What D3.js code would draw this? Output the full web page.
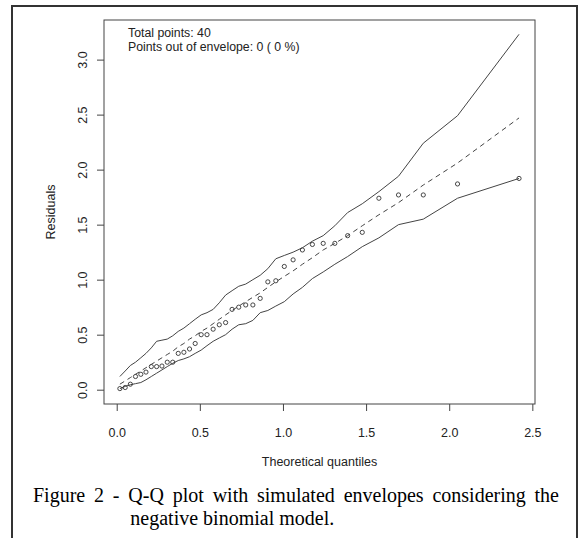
<!DOCTYPE html>
<html><head><meta charset="utf-8">
<script src="https://cdn.jsdelivr.net/npm/d3@7"></script>
<style>html,body{margin:0;padding:0;background:#fff;} svg{display:block}</style>
</head><body>
<svg id="c" width="579" height="538"></svg>
<script>
// Theoretical half-normal quantiles (x)
const quantiles = [0.019,0.051,0.082,0.113,0.145,0.176,0.208,0.240,0.272,0.304,
  0.337,0.370,0.404,0.438,0.472,0.508,0.543,0.580,0.617,0.655,
  0.694,0.734,0.776,0.819,0.863,0.909,0.957,1.008,1.061,1.117,
  1.177,1.242,1.312,1.389,1.477,1.577,1.695,1.844,2.050,2.420];
// Observed (sorted) residuals
const residuals = [0.01,0.02,0.05,0.12,0.14,0.16,0.21,0.21,0.215,0.25,
  0.25,0.33,0.34,0.37,0.42,0.50,0.50,0.55,0.59,0.61,
  0.73,0.75,0.77,0.77,0.83,0.98,0.99,1.12,1.18,1.27,
  1.32,1.33,1.33,1.40,1.43,1.74,1.77,1.77,1.87,1.92];
// Simulated envelope
const envLower = [0.01,0.03,0.045,0.055,0.065,0.09,0.12,0.15,0.18,0.21,
  0.24,0.265,0.28,0.30,0.33,0.36,0.40,0.44,0.47,0.50,
  0.55,0.59,0.60,0.63,0.70,0.72,0.76,0.80,0.87,0.93,
  1.01,1.07,1.14,1.21,1.30,1.38,1.50,1.55,1.74,1.92];
const envMedian = [0.05,0.08,0.11,0.14,0.17,0.20,0.23,0.26,0.29,0.32,
  0.35,0.39,0.42,0.46,0.49,0.53,0.56,0.60,0.64,0.68,
  0.72,0.76,0.80,0.84,0.88,0.93,0.98,1.03,1.08,1.14,
  1.20,1.27,1.33,1.40,1.49,1.59,1.70,1.86,2.06,2.47];
const envUpper = [0.12,0.17,0.22,0.25,0.29,0.33,0.38,0.44,0.45,0.46,
  0.49,0.53,0.56,0.60,0.64,0.68,0.70,0.73,0.79,0.86,
  0.90,0.94,0.96,1.00,1.04,1.10,1.19,1.22,1.25,1.29,
  1.35,1.40,1.49,1.61,1.69,1.80,1.94,2.24,2.49,3.23];

const xTicks = [0,0.5,1,1.5,2,2.5];
const yTicks = [0,0.5,1,1.5,2,2.5,3];
const infoLines = ["Total points: 40", "Points out of envelope: 0 ( 0 %)"];
const xTitle = "Theoretical quantiles";
const yTitle = "Residuals";
const captionLine1 = "Figure 2 - Q-Q plot with simulated envelopes considering the";
const captionLine2 = "negative binomial model.";

const svg = d3.select("#c");
const L = 104, R = 535, T = 20, B = 404;
const sans = "Liberation Sans, Arial, sans-serif";
const serif = "Liberation Serif, Times New Roman, serif";

// outer frame
svg.append("rect").attr("x",12).attr("y",6).attr("width",565).attr("height",560)
  .attr("fill","none").attr("stroke","#333").attr("stroke-width",2);

const x = d3.scaleLinear().domain([-0.0765, 2.516]).range([L, R]);
const y = d3.scaleLinear().domain([-0.13, 3.36]).range([B, T]);

// axes
const gx = svg.append("g").attr("transform",`translate(0,${B})`)
  .call(d3.axisBottom(x).tickValues(xTicks).tickFormat(d3.format(".1f")).tickSize(7).tickSizeOuter(0));
gx.select(".domain").remove();
gx.selectAll(".tick line").attr("stroke","#444");
gx.selectAll("text").attr("y",33).attr("dy",null)
  .attr("font-family",sans).attr("font-size",12.5).attr("fill","#222");

const gy = svg.append("g").attr("transform",`translate(${L},0)`)
  .call(d3.axisLeft(y).tickValues(yTicks).tickFormat(d3.format(".1f")).tickSize(7).tickSizeOuter(0));
gy.select(".domain").remove();
gy.selectAll(".tick line").attr("stroke","#444");
gy.selectAll("text").attr("transform","rotate(-90)").attr("x",0).attr("y",-17).attr("dy",null)
  .attr("text-anchor","middle").attr("font-family",sans).attr("font-size",12.5).attr("fill","#222");

// plot box
svg.append("rect").attr("x",L).attr("y",T).attr("width",R-L).attr("height",B-T)
  .attr("fill","none").attr("stroke","#444").attr("stroke-width",1);

// titles
svg.append("text").attr("x",(L+R)/2).attr("y",466).attr("text-anchor","middle")
  .attr("font-family",sans).attr("font-size",12.5).attr("fill","#222").text(xTitle);
svg.append("text").attr("transform",`translate(55,${(T+B)/2}) rotate(-90)`).attr("text-anchor","middle")
  .attr("font-family",sans).attr("font-size",12.5).attr("fill","#222").text(yTitle);

// lines
const mk = arr => d3.line().x((d,i)=>x(quantiles[i])).y(d=>y(d))(arr);
svg.append("path").attr("d",mk(envLower)).attr("fill","none").attr("stroke","#444").attr("stroke-width",1);
svg.append("path").attr("d",mk(envUpper)).attr("fill","none").attr("stroke","#444").attr("stroke-width",1);
svg.append("path").attr("d",mk(envMedian)).attr("fill","none").attr("stroke","#444").attr("stroke-width",1)
  .attr("stroke-dasharray","5,4");

// points
svg.append("g").selectAll("circle").data(residuals).join("circle")
  .attr("cx",(d,i)=>x(quantiles[i])).attr("cy",d=>y(d)).attr("r",2.1)
  .attr("fill","none").attr("stroke","#333").attr("stroke-width",0.9);

// info text
svg.append("g").selectAll("text").data(infoLines).join("text")
  .attr("x",128).attr("y",(d,i)=>37+i*14)
  .attr("font-family",sans).attr("font-size",12.3).attr("fill","#222").text(d=>d);

// caption, justified first line
const cap = svg.append("g").attr("font-family",serif).attr("font-size",20).attr("fill","#000");
const words = captionLine1.split(" ");
const left = 33, right = 559;
const tmp = words.map(w => cap.append("text").attr("y",502).text(w));
const widths = tmp.map(t => t.node().getComputedTextLength());
const gap = (right-left - d3.sum(widths))/(words.length-1);
let cx = left, qStart = left;
tmp.forEach((t,i)=>{ t.attr("x",cx); if(i===3) qStart = cx; cx += widths[i]+gap; });
cap.append("text").attr("x",qStart+2).attr("y",525).text(captionLine2);
</script>
</body></html>
